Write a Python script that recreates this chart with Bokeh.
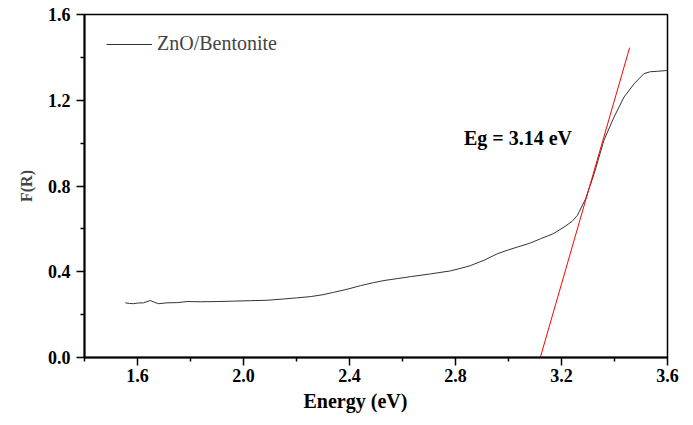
from bokeh.plotting import figure
from bokeh.models import Range1d, FixedTicker, Legend, LegendItem, Title
from bokeh.core.properties import value
from bokeh.embed import file_html
from bokeh.resources import INLINE

# Data
energy = [1.554, 1.57, 1.585, 1.60, 1.623, 1.648, 1.665, 1.68, 1.711, 1.75, 1.787, 1.837, 1.90,
          1.963, 2.026, 2.089, 2.152, 2.20, 2.253, 2.30, 2.34, 2.39, 2.441, 2.49, 2.53, 2.58,
          2.63, 2.706, 2.781, 2.832, 2.857, 2.91, 2.958, 3.0, 3.033, 3.08, 3.121, 3.17, 3.209,
          3.24, 3.26, 3.291, 3.323, 3.36, 3.398, 3.436, 3.474, 3.511, 3.535, 3.562, 3.6]
fr = [0.255, 0.252, 0.251, 0.254, 0.255, 0.266, 0.257, 0.251, 0.255, 0.256, 0.261, 0.260, 0.261,
      0.263, 0.265, 0.267, 0.273, 0.278, 0.284, 0.293, 0.304, 0.318, 0.335, 0.349, 0.359, 0.368,
      0.377, 0.39, 0.404, 0.42, 0.429, 0.455, 0.484, 0.502, 0.515, 0.533, 0.554, 0.578, 0.608,
      0.635, 0.663, 0.74, 0.857, 1.013, 1.121, 1.215, 1.277, 1.324, 1.333, 1.335, 1.339]

fit_x = [3.12, 3.457]
fit_y = [0.0, 1.445]

x_ticks = [1.6, 2.0, 2.4, 2.8, 3.2, 3.6]
y_ticks = [0.0, 0.4, 0.8, 1.2, 1.6]
x_minor = [1.4, 1.8, 2.2, 2.6, 3.0, 3.4]
y_minor = [0.2, 0.6, 1.0, 1.4]

series_label = "ZnO/Bentonite"
annotation = "Eg = 3.14 eV"
annot_x, annot_y = 2.832, 1.024

FONT = "Liberation Serif"

p = figure(width=693, height=425, output_backend="svg", toolbar_location=None,
           x_range=Range1d(1.4, 3.6), y_range=Range1d(0.0, 1.6),
           min_border_left=84, min_border_right=26, min_border_top=14, min_border_bottom=68)

p.background_fill_color = "white"
p.border_fill_color = "white"
p.grid.visible = False
p.outline_line_color = "black"
p.outline_line_width = 1.5

for ax in (p.xaxis[0], p.yaxis[0]):
    ax.axis_line_width = 2
    ax.axis_line_color = "black"
    ax.major_tick_line_width = 1.5
    ax.minor_tick_line_width = 1.5
    ax.major_tick_out = 8
    ax.major_tick_in = 0
    ax.minor_tick_out = 4
    ax.minor_tick_in = 0
    ax.major_label_text_font = FONT
    ax.major_label_text_font_style = "bold"
    ax.major_label_text_font_size = "18px"
    ax.major_label_text_color = "black"

p.xaxis.ticker = FixedTicker(ticks=x_ticks, minor_ticks=x_minor)
p.yaxis.ticker = FixedTicker(ticks=y_ticks, minor_ticks=y_minor)
p.xaxis.major_label_overrides = {t: f"{t:.1f}" for t in x_ticks}
p.yaxis.major_label_overrides = {t: f"{t:.1f}" for t in y_ticks}
p.xaxis.major_label_standoff = 3
p.yaxis.major_label_standoff = 6

p.yaxis.axis_label = "F(R)"
p.yaxis.axis_label_text_font = FONT
p.yaxis.axis_label_text_font_style = "bold"
p.yaxis.axis_label_text_font_size = "16px"
p.yaxis.axis_label_standoff = 10

xt = Title(text="Energy (eV)", align="left", offset=219, standoff=6,
           text_font=FONT, text_font_style="bold", text_font_size="20px", text_color="black")
p.add_layout(xt, "below")

curve = p.line(energy, fr, line_color="#333333", line_width=1)
p.line(fit_x, fit_y, line_color="#ff0000", line_width=1)

p.text(x=[annot_x], y=[annot_y], text=[annotation], text_font=value(FONT),
       text_font_style="bold", text_font_size="20px", text_baseline="middle",
       text_align="left", text_color="black")

legend = Legend(items=[LegendItem(label=series_label, renderers=[curve])],
                location=(22, 302), border_line_alpha=0, background_fill_alpha=0,
                padding=0, margin=0, glyph_width=46, label_standoff=5,
                label_text_font=FONT, label_text_font_size="20px")
p.add_layout(legend)

open("out.html", "w").write(file_html(p, INLINE))
